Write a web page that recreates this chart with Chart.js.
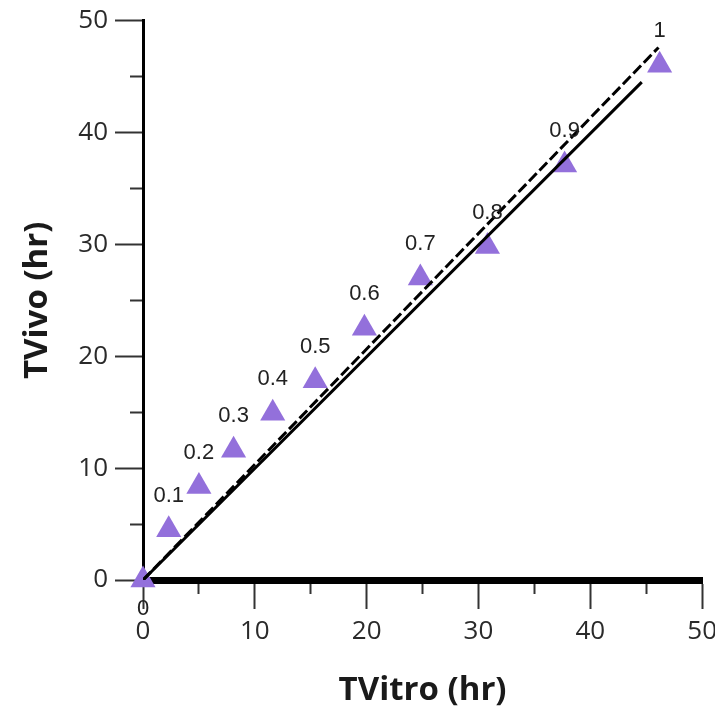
<!DOCTYPE html>
<html>
<head>
<meta charset="utf-8">
<script src="https://cdn.jsdelivr.net/npm/chart.js@4"></script>
<style>
  body { margin: 0; background: #fff; overflow: hidden; }
  #chart { display: block; margin-top: -2px; }
</style>
</head>
<body>
<canvas id="chart" width="724" height="717"></canvas>
<script>
// fraction labels next to each triangle
const fractions = ["0", "0.1", "0.2", "0.3", "0.4", "0.5", "0.6", "0.7", "0.8", "0.9", "1"];
// TVitro (hr) and TVivo (hr) for each fraction
const tVitro = [0, 2.3, 5.0, 8.1, 11.6, 15.4, 19.8, 24.8, 30.8, 37.7, 46.2];
const tVivo = [0, 4.5, 8.35, 11.6, 14.9, 17.8, 22.5, 27.0, 29.8, 37.1, 46.0];
// fitted lines (start and end)
const solidLineX = [0, 44.6];
const solidLineY = [0, 44.5];
const dashLineX = [0, 46.1];
const dashLineY = [0, 47.6];
const axisMin = 0, axisMax = 50, majorStep = 10, minorStep = 5;

const toPoints = (xs, ys) => xs.map((x, i) => ({ x: x, y: ys[i] }));

// labels drawn above each triangle ("0" below)
const pointLabels = {
    id: "pointLabels",
    afterDatasetsDraw(chart) {
        const ctx = chart.ctx;
        const meta = chart.getDatasetMeta(2);
        ctx.save();
        ctx.font = "22px 'Liberation Sans', Arial, sans-serif";
        ctx.fillStyle = "#222";
        ctx.textAlign = "center";
        ctx.textBaseline = "middle";
        meta.data.forEach((el, i) => {
            const dy = i === 0 ? 29 : -34;
            ctx.fillText(fractions[i], el.x, el.y + dy);
        });
        ctx.restore();
    }
};

const tickLabel = v => (v % majorStep === 0 ? v : "");

new Chart(document.getElementById("chart"), {
    type: "scatter",
    data: {
        datasets: [
            {
                data: toPoints(solidLineX, solidLineY),
                showLine: true,
                borderColor: "#000",
                borderWidth: 3,
                pointRadius: 0,
                order: 0
            },
            {
                data: toPoints(dashLineX, dashLineY),
                showLine: true,
                borderColor: "#000",
                borderWidth: 3,
                borderDash: [11, 4],
                pointRadius: 0,
                order: 1
            },
            {
                data: toPoints(tVitro, tVivo),
                pointStyle: "triangle",
                pointRadius: 14.5,
                pointBackgroundColor: "#9370DB",
                pointBorderWidth: 0,
                clip: false,
                order: 2
            }
        ]
    },
    options: {
        responsive: false,
        animation: false,
        // canvas is 724 wide, page window 715: the "50" label gets cut at the edge
        layout: { padding: { top: 18, right: 20, left: 0, bottom: 0 } },
        plugins: { legend: { display: false }, tooltip: { enabled: false } },
        scales: {
            x: {
                type: "linear",
                min: axisMin,
                max: axisMax,
                border: { display: true, color: "#000", width: 7 },
                grid: {
                    drawOnChartArea: false,
                    tickLength: 29,
                    tickWidth: 2,
                    tickColor: "#333",
                    tickBorderDash: c => (c.tick && c.tick.value % majorStep !== 0 ? [10, 100] : [])
                },
                ticks: {
                    stepSize: minorStep,
                    autoSkip: false,
                    maxRotation: 0,
                    padding: 7,
                    color: "#2a2a2a",
                    font: { family: "'Open Sans'", size: 26 },
                    callback: tickLabel
                },
                title: {
                    display: true,
                    text: "TVitro (hr)",
                    color: "#1a1a1a",
                    font: { family: "'Open Sans'", size: 33, weight: "bold" },
                    padding: { top: 0, bottom: 5 }
                },
                afterFit: s => { s.height = 135; }
            },
            y: {
                type: "linear",
                min: axisMin,
                max: axisMax,
                border: { display: true, color: "#000", width: 3 },
                grid: {
                    drawOnChartArea: false,
                    tickLength: 28,
                    tickWidth: 2,
                    tickColor: "#333",
                    tickBorderDash: c => (c.tick && c.tick.value % majorStep !== 0 ? [0, 15, 40, 0] : [])
                },
                ticks: {
                    stepSize: minorStep,
                    autoSkip: false,
                    padding: 7,
                    color: "#2a2a2a",
                    font: { family: "'Open Sans'", size: 26 },
                    callback: tickLabel
                },
                title: {
                    display: true,
                    text: "TVivo (hr)",
                    color: "#1a1a1a",
                    font: { family: "'Open Sans'", size: 33, weight: "bold" },
                    padding: { top: 18, bottom: 0 }
                },
                afterFit: s => { s.width = 143; }
            }
        }
    },
    plugins: [pointLabels]
});
</script>
</body>
</html>
